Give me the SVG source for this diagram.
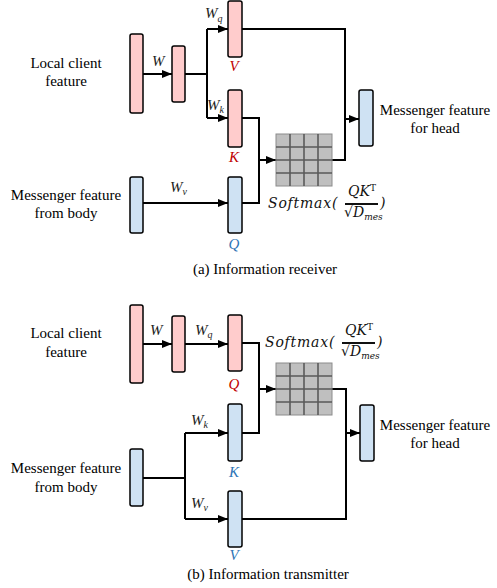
<svg xmlns="http://www.w3.org/2000/svg" width="497" height="588" viewBox="0 0 497 588" font-family="'Liberation Serif', 'Times New Roman', serif">
  <defs>
    <marker id="arrow" viewBox="0 0 10 8" refX="10" refY="4" markerWidth="10" markerHeight="8" markerUnits="userSpaceOnUse" orient="auto">
      <path d="M0,0 L10,4 L0,8 Z" fill="#000"/>
    </marker>
    <g id="grid">
      <rect x="0" y="0" width="56" height="52" fill="#bfbfbf" stroke="#8c8c8c" stroke-width="1"/>
      <path d="M14,0 V52 M28,0 V52 M42,0 V52 M0,13 H56 M0,26 H56 M0,39 H56" stroke="#5a5a5a" stroke-width="1.6" fill="none"/>
    </g>
  </defs>
  <style>
    .pink { fill: #ffcccc; stroke: #000; stroke-width: 1.5; }
    .blue { fill: #cfe2f3; stroke: #000; stroke-width: 1.5; }
    .wire { fill: none; stroke: #000; stroke-width: 2; }
    .arr { fill: none; stroke: #000; stroke-width: 2; marker-end: url(#arrow); }
    .lbl { font-family: 'Liberation Serif', 'Times New Roman', serif; font-size: 15px; fill: #000; text-anchor: middle; }
    .w { font-family: 'Liberation Serif', 'Times New Roman', serif; font-size: 15px; font-style: italic; fill: #222; }
    .sub { font-size: 10px; }
    .red { font-family: 'Liberation Serif', serif; font-size: 15px; font-style: italic; fill: #c00000; text-anchor: middle; }
    .bl { font-family: 'Liberation Serif', serif; font-size: 15px; font-style: italic; fill: #2e75b6; text-anchor: middle; }
    .math { font-family: 'DejaVu Serif', 'Liberation Serif', serif; font-size: 14px; font-style: italic; fill: #111; }
    .sm { letter-spacing: 0.8px; }
    .cap { font-family: 'Liberation Serif', 'Times New Roman', serif; font-size: 15px; fill: #000; text-anchor: middle; }
  </style>

  <!-- (a) information receiver -->
  <g id="connectors-a">
    <path class="arr" d="M143,74 H172"/>
    <path class="wire" d="M185,74 H207 M207,29 V118"/>
    <path class="arr" d="M207,29 H228"/>
    <path class="arr" d="M207,118 H228"/>
    <path class="arr" d="M143,203 H228"/>
    <path class="wire" d="M242,118 H259 V203 H242"/>
    <path class="arr" d="M259,160 H276"/>
    <path class="wire" d="M242,29 H345 V160 H332"/>
    <path class="arr" d="M345,119 H359"/>
  </g>

  <g id="local-a">
    <rect class="pink" x="130" y="34" width="13" height="79" rx="2"/>
    <text class="lbl" x="66" y="68">Local client</text>
    <text class="lbl" x="66" y="86">feature</text>
  </g>
  <g id="proj-a">
    <rect class="pink" x="172" y="46" width="13" height="56" rx="2"/>
  </g>
  <g id="v-a">
    <rect class="pink" x="228" y="1" width="14" height="56" rx="2"/>
    <text class="red" x="234" y="71">V</text>
  </g>
  <g id="k-a">
    <rect class="pink" x="228" y="90" width="14" height="57" rx="2"/>
    <text class="red" x="234" y="162">K</text>
  </g>
  <g id="body-a">
    <rect class="blue" x="130" y="177" width="13" height="56" rx="2"/>
    <text class="lbl" x="66" y="200">Messenger feature</text>
    <text class="lbl" x="66" y="218">from body</text>
  </g>
  <g id="q-a">
    <rect class="blue" x="228" y="177" width="14" height="56" rx="2"/>
    <text class="bl" x="234" y="249">Q</text>
  </g>
  <g id="attn-a">
    <use href="#grid" x="276" y="134"/>
    <text class="math sm" x="268" y="208">Softmax(</text>
    <text class="math" x="348" y="196">QK<tspan font-size="9" font-style="normal" dy="-5">T</tspan></text>
    <path d="M345,204 H378" stroke="#111" stroke-width="1.8"/>
    <text class="math" x="344" y="217">√D<tspan font-size="9" dy="3">mes</tspan></text>
    <text class="math" x="380" y="208">)</text>
  </g>
  <g id="head-a">
    <rect class="blue" x="359" y="90" width="14" height="56" rx="2"/>
    <text class="lbl" x="435" y="115">Messenger feature</text>
    <text class="lbl" x="435" y="133">for head</text>
  </g>
  <g id="weights-a">
    <text class="w" x="152" y="66">W</text>
    <text class="w" x="205" y="18">W<tspan class="sub" dy="4">q</tspan></text>
    <text class="w" x="207" y="110">W<tspan class="sub" dy="3">k</tspan></text>
    <text class="w" x="170" y="192">W<tspan class="sub" dy="3">v</tspan></text>
  </g>
  <text class="cap" x="265" y="274">(a) Information receiver</text>

  <!-- (b) information transmitter -->
  <g id="connectors-b">
    <path class="arr" d="M143,344 H172"/>
    <path class="arr" d="M185,344 H228"/>
    <path class="wire" d="M242,343 H259 V433 H242"/>
    <path class="arr" d="M259,389 H276"/>
    <path class="wire" d="M332,389 H346 V519 H242"/>
    <path class="arr" d="M346,433 H360"/>
    <path class="wire" d="M143,478 H185 M185,433 V519"/>
    <path class="arr" d="M185,433 H228"/>
    <path class="arr" d="M185,519 H228"/>
  </g>

  <g id="local-b">
    <rect class="pink" x="130" y="305" width="13" height="78" rx="2"/>
    <text class="lbl" x="66" y="338">Local client</text>
    <text class="lbl" x="66" y="357">feature</text>
  </g>
  <g id="proj-b">
    <rect class="pink" x="172" y="316" width="13" height="56" rx="2"/>
  </g>
  <g id="q-b">
    <rect class="pink" x="228" y="315" width="14" height="56" rx="2"/>
    <text class="red" x="234" y="389">Q</text>
  </g>
  <g id="body-b">
    <rect class="blue" x="130" y="449" width="13" height="57" rx="2"/>
    <text class="lbl" x="66" y="473">Messenger feature</text>
    <text class="lbl" x="66" y="492">from body</text>
  </g>
  <g id="k-b">
    <rect class="blue" x="228" y="404" width="14" height="57" rx="2"/>
    <text class="bl" x="234" y="477">K</text>
  </g>
  <g id="v-b">
    <rect class="blue" x="228" y="491" width="14" height="56" rx="2"/>
    <text class="bl" x="234" y="560" font-size="14">V</text>
  </g>
  <g id="attn-b">
    <use href="#grid" x="276" y="363"/>
    <text class="math sm" x="265" y="347">Softmax(</text>
    <text class="math" x="345" y="335">QK<tspan font-size="9" font-style="normal" dy="-5">T</tspan></text>
    <path d="M342,343 H375" stroke="#111" stroke-width="1.8"/>
    <text class="math" x="341" y="356">√D<tspan font-size="9" dy="3">mes</tspan></text>
    <text class="math" x="377" y="347">)</text>
  </g>
  <g id="head-b">
    <rect class="blue" x="360" y="405" width="14" height="56" rx="2"/>
    <text class="lbl" x="435" y="430">Messenger feature</text>
    <text class="lbl" x="435" y="448">for head</text>
  </g>
  <g id="weights-b">
    <text class="w" x="150" y="335">W</text>
    <text class="w" x="195" y="335">W<tspan class="sub" dy="3">q</tspan></text>
    <text class="w" x="191" y="425">W<tspan class="sub" dy="3">k</tspan></text>
    <text class="w" x="191" y="508">W<tspan class="sub" dy="3">v</tspan></text>
  </g>
  <text class="cap" x="268" y="579">(b) Information transmitter</text>
</svg>
